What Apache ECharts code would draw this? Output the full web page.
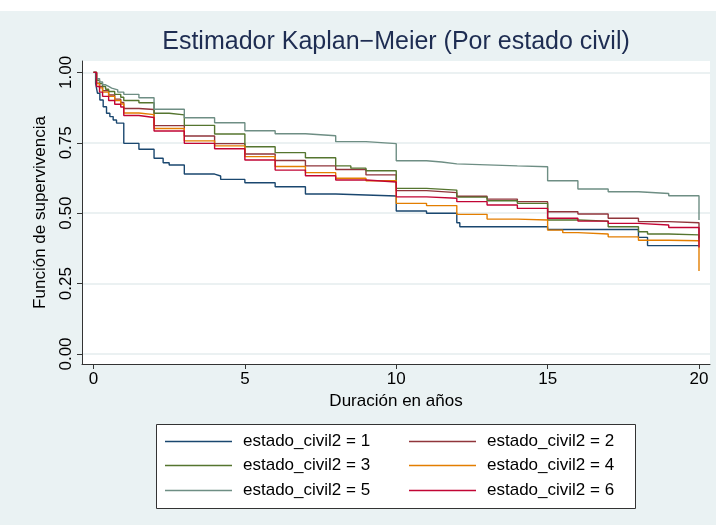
<!DOCTYPE html>
<html>
<head>
<meta charset="utf-8">
<script src="https://cdn.jsdelivr.net/npm/echarts@6/dist/echarts.min.js"></script>
<style>
html,body{margin:0;padding:0;background:#ffffff;}
#chart{width:716px;height:525px;}
</style>
</head>
<body>
<div id="chart"></div>
<script>
// ---- data ----
const titleText = 'Estimador Kaplan\u2212Meier (Por estado civil)';
const xTitle = 'Duración en años';
const yTitle = 'Función de supervivencia';
const xTicks = [0, 5, 10, 15, 20];
const yTicks = [0, 0.25, 0.5, 0.75, 1];
const seriesNames = ['estado_civil2 = 1','estado_civil2 = 2','estado_civil2 = 3','estado_civil2 = 4','estado_civil2 = 5','estado_civil2 = 6'];

// Kaplan-Meier step points [time, survival]
const km1 = [[0,1],[0.07,0.961],[0.13,0.926],[0.21,0.902],[0.32,0.878],[0.43,0.855],[0.54,0.843],[0.65,0.831],[0.76,0.820],[1,0.748],[1.5,0.727],[2,0.695],[2.3,0.679],[2.5,0.671],[3,0.639],[4,0.632],[4.2,0.620],[5,0.608],[6,0.594],[7,0.568],[8,0.561],[10,0.508],[11,0.500],[12,0.466],[12.1,0.452],[15,0.442],[18,0.414],[18.3,0.385],[20,0.385]];
const km2 = [[0,1],[0.1,0.962],[0.2,0.950],[0.3,0.935],[0.5,0.920],[0.7,0.905],[0.9,0.893],[1,0.872],[1.5,0.868],[2,0.811],[3,0.774],[4,0.747],[5,0.710],[6,0.687],[7,0.668],[8,0.655],[9,0.636],[10,0.580],[11,0.573],[12,0.560],[13,0.550],[14,0.541],[15,0.505],[16,0.497],[17,0.482],[18,0.470],[19,0.466],[20,0.410]];
const km3 = [[0,1],[0.1,0.972],[0.2,0.960],[0.3,0.950],[0.4,0.940],[0.5,0.932],[0.7,0.922],[0.9,0.912],[1,0.900],[1.5,0.892],[2,0.855],[2.5,0.849],[3,0.812],[4,0.781],[5,0.736],[6,0.715],[7,0.697],[8,0.668],[8.5,0.660],[9,0.651],[10,0.588],[11,0.582],[12,0.557],[13,0.544],[14,0.535],[15,0.476],[16,0.472],[17,0.452],[18,0.434],[18.3,0.426],[19,0.423],[20,0.400]];
const km4 = [[0,1],[0.1,0.960],[0.2,0.945],[0.3,0.930],[0.5,0.915],[0.7,0.900],[0.9,0.888],[1,0.856],[1.5,0.850],[2,0.801],[3,0.757],[4,0.739],[5,0.701],[6,0.666],[7,0.644],[8,0.624],[9,0.615],[10,0.535],[11,0.527],[12,0.496],[13,0.479],[14,0.476],[15,0.440],[15.5,0.431],[16,0.426],[17,0.416],[18,0.404],[19,0.402],[20,0.295]];
const km5 = [[0,1],[0.1,0.978],[0.2,0.966],[0.3,0.956],[0.4,0.950],[0.5,0.944],[0.6,0.938],[0.8,0.930],[1,0.922],[1.5,0.910],[2,0.869],[3,0.839],[4,0.821],[5,0.793],[6,0.782],[7,0.775],[8,0.754],[9,0.747],[10,0.686],[11,0.682],[11.5,0.675],[12,0.668],[14,0.665],[15,0.615],[16,0.586],[17,0.576],[18,0.570],[19,0.562],[20,0.476]];
const km6 = [[0,1],[0.1,0.950],[0.2,0.930],[0.3,0.915],[0.5,0.900],[0.7,0.887],[0.9,0.877],[1,0.847],[1.5,0.840],[2,0.792],[3,0.748],[4,0.729],[5,0.689],[6,0.653],[7,0.633],[8,0.618],[9,0.611],[10,0.558],[11,0.553],[12,0.541],[13,0.529],[14,0.517],[15,0.482],[16,0.472],[17,0.464],[18,0.458],[19,0.449],[20,0.378]];
const kmData = [km1, km2, km3, km4, km5, km6];

// ---- styles ----
const colors = ['#1a476f','#90353b','#55752f','#e37e00','#6e8e84','#c10534'];
const FONT = 'Liberation Sans, Arial, Helvetica, sans-serif';

// plot region (pixels)
const P = {left: 82, right: 710, top: 61, bottom: 364};
// data->pixel references: x 0->93.5, 20->699 ; y 1->72.4, 0->354
const xpx = (699 - 93.5) / 20;
const ypx = (354 - 72.4) / 1;
const xMin = -(93.5 - P.left) / xpx;
const xMax = 20 + (P.right - 699) / xpx;
const yMax = 1 + (72.4 - P.top) / ypx;
const yMin = -(P.bottom - 354) / ypx;

const chart = echarts.init(document.getElementById('chart'), null, {renderer: 'canvas'});

const legendPos = [
  {left: 165, top: 443}, {left: 409, top: 443},
  {left: 165, top: 467}, {left: 409, top: 467},
  {left: 165, top: 492}, {left: 409, top: 492}
];
const legendOrder = [0,1,2,3,4,5];

const legends = legendOrder.map((i, k) => ({
  data: [seriesNames[i]],
  left: legendPos[k].left,
  top: legendPos[k].top - 10,
  itemWidth: 67,
  itemHeight: 1.5,
  icon: 'rect',
  selectedMode: false,
  padding: 0,
  textStyle: {fontFamily: FONT, fontSize: 17, color: '#000', padding: [0,0,0,6]}
}));

const option = {
  animation: false,
  backgroundColor: '#ffffff',
  textStyle: {fontFamily: FONT},
  graphic: [
    {type: 'rect', z: -10, shape: {x: 0, y: 11, width: 716, height: 514}, style: {fill: '#eaf2f3'}},
    {type: 'rect', z: -5, shape: {x: 156.5, y: 424.5, width: 479, height: 84}, style: {fill: '#ffffff', stroke: '#333333', lineWidth: 1}}
  ],
  title: {
    text: titleText,
    left: (P.left + P.right) / 2,
    textAlign: 'center',
    top: 30,
    padding: 0,
    textStyle: {fontFamily: FONT, fontSize: 25, fontWeight: 'normal', color: '#1e2d52'}
  },
  legend: legends,
  grid: {
    left: P.left, top: P.top, width: P.right - P.left, height: P.bottom - P.top,
    show: true, backgroundColor: '#ffffff', borderWidth: 0,
    containLabel: false
  },
  xAxis: {
    type: 'value',
    min: xMin, max: xMax,
    name: xTitle,
    nameLocation: 'middle',
    nameGap: 26,
    nameTextStyle: {fontFamily: FONT, fontSize: 17, color: '#000'},
    axisLine: {show: true, onZero: false, lineStyle: {color: '#333', width: 1}},
    axisTick: {show: true, length: 5, customValues: xTicks, lineStyle: {color: '#333'}},
    axisLabel: {customValues: xTicks, margin: 7, fontFamily: FONT, fontSize: 17, color: '#000', formatter: v => String(v)},
    splitLine: {show: false}
  },
  yAxis: {
    type: 'value',
    min: yMin, max: yMax,
    name: yTitle,
    nameLocation: 'middle',
    nameGap: 33,
    nameRotate: 90,
    nameTextStyle: {fontFamily: FONT, fontSize: 17, color: '#000'},
    axisLine: {show: true, onZero: false, lineStyle: {color: '#333', width: 1}},
    axisTick: {show: true, length: 5, customValues: yTicks, lineStyle: {color: '#333'}},
    axisLabel: {customValues: yTicks, rotate: 90, margin: 7, fontFamily: FONT, fontSize: 17, color: '#000', formatter: v => v.toFixed(2)},
    splitLine: {show: true, lineStyle: {color: '#e4ecee', width: 1.5}}
  },
  series: kmData.map((d, i) => ({
    name: seriesNames[i],
    type: 'line',
    step: 'end',
    data: d,
    symbol: 'none',
    showSymbol: false,
    lineStyle: {color: colors[i], width: 1.4},
    itemStyle: {color: colors[i]},
    z: 2 + i
  }))
};
chart.setOption(option);
</script>
</body>
</html>
